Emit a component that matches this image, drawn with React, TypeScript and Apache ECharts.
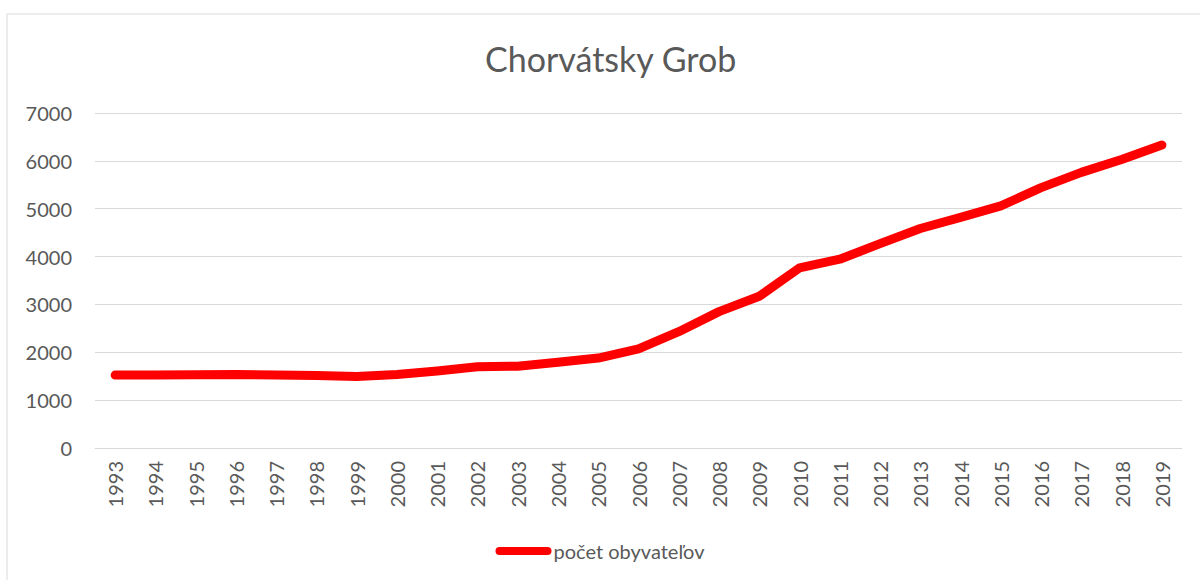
import React, { useEffect, useRef } from "react";
import * as echarts from "echarts";

const years = ["1993","1994","1995","1996","1997","1998","1999","2000","2001","2002","2003","2004","2005","2006","2007","2008","2009","2010","2011","2012","2013","2014","2015","2016","2017","2018","2019"];
const population = [1524, 1525, 1530, 1538, 1525, 1515, 1495, 1538, 1610, 1698, 1710, 1790, 1880, 2070, 2430, 2850, 3170, 3764, 3945, 4270, 4586, 4820, 5060, 5440, 5760, 6030, 6330];
const seriesName = "počet obyvateľov";
const titleText = "Chorvátsky Grob";

export default function App() {
  const ref = useRef<HTMLDivElement>(null);
  useEffect(() => {
    if (!ref.current) return;
    const chart = echarts.init(ref.current, null, { renderer: "svg" });
    const font = "Lato, 'Open Sans', sans-serif";
    chart.setOption({
      animation: false,
      backgroundColor: "#ffffff",
      textStyle: { fontFamily: font },
      title: {
        text: titleText,
        left: 480,
        top: 36,
        textStyle: { fontFamily: font, fontSize: 34, fontWeight: "normal", color: "#595959" },
      },
      graphic: [
        {
          type: "rect",
          shape: { x: 7, y: 14, width: 1200, height: 600 },
          style: { fill: "none", stroke: "#d9d9d9", lineWidth: 1 },
          silent: true,
        },
      ],
      legend: {
        bottom: 14,
        left: "center",
        itemWidth: 56,
        itemHeight: 9,
        itemGap: 4,
        textStyle: { fontFamily: font, fontSize: 20, color: "#595959", padding: [0, 0, 0, -3] },
        data: [{ name: seriesName, icon: "path://M4,0 L52,0 A4,4 0 0 1 52,8 L4,8 A4,4 0 0 1 4,0 Z" }],
      },
      grid: { left: 95, right: 18, top: 113, bottom: 132, containLabel: false },
      xAxis: {
        type: "category",
        data: years,
        boundaryGap: true,
        axisLine: { show: true, lineStyle: { color: "#d9d9d9" } },
        axisTick: { show: false },
        axisLabel: { rotate: 90, fontFamily: font, fontSize: 20, color: "#595959", margin: 13 },
      },
      yAxis: {
        type: "value",
        min: 0,
        max: 7000,
        interval: 1000,
        axisLine: { show: false },
        axisTick: { show: false },
        axisLabel: {
          fontFamily: font,
          fontSize: 20,
          color: "#595959",
          margin: 23,
          formatter: (v: number) => String(v),
        },
        splitLine: { lineStyle: { color: "#d9d9d9", width: 1 } },
      },
      series: [
        {
          name: seriesName,
          type: "line",
          data: population,
          symbol: "none",
          smooth: false,
          lineStyle: { color: "#ff0000", width: 9, cap: "round", join: "round" },
          itemStyle: { color: "#ff0000" },
        },
      ],
    });
    return () => chart.dispose();
  }, []);
  return <div ref={ref} style={{ width: 1200, height: 580, position: "absolute", left: 0, top: 0 }} />;
}
